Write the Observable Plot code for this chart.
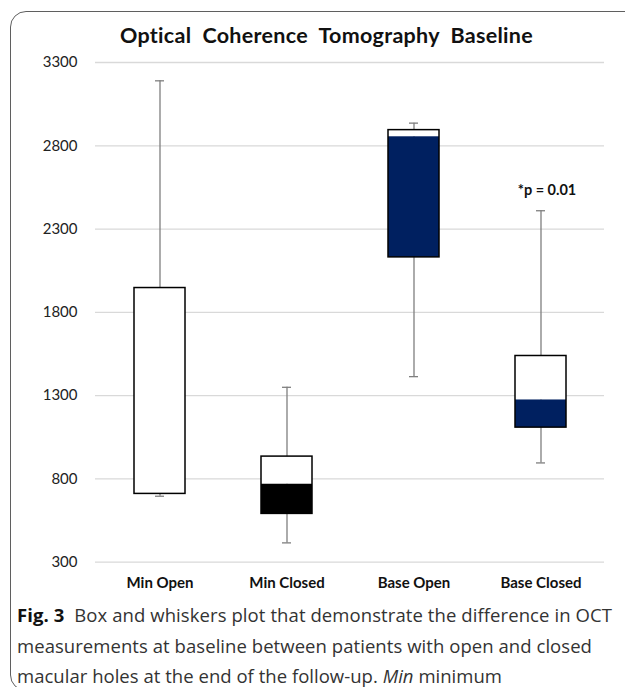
<!DOCTYPE html>
<html>
<head>
<meta charset="utf-8">
<script src="https://cdn.jsdelivr.net/npm/d3@7"></script>
<script src="https://cdn.jsdelivr.net/npm/@observablehq/plot@0.6"></script>
<style>
  html, body { margin: 0; padding: 0; background: #fff; }
  body { width: 625px; height: 687px; position: relative; overflow: hidden; }
  #frame { position: absolute; left: 10px; top: 11px; width: 700px; height: 680px;
           border: 1.5px solid #5f5f5f; border-radius: 16px; box-sizing: border-box; }
  #title { position: absolute; left: 14px; top: 23px; width: 625px; text-align: center;
           font-family: Lato, sans-serif; font-weight: 700; font-size: 21.5px; line-height: 25px;
           letter-spacing: 0.3px; color: #111; white-space: pre; }
  #chart { position: absolute; left: 0; top: 0; }
  #caption { position: absolute; left: 17px; top: 600px; font-family: "Open Sans", sans-serif;
             font-size: 18.5px; line-height: 30.5px; color: #333; }
  #caption div { white-space: nowrap; }
</style>
</head>
<body>
<div id="frame"></div>
<div id="chart"></div>
<div id="title">Optical  Coherence  Tomography  Baseline</div>
<div id="caption">
  <div class="ln" data-w="595"><b style="color:#111">Fig. 3</b>&nbsp; Box and whiskers plot that demonstrate the difference in OCT</div>
  <div class="ln" data-w="575">measurements at baseline between patients with open and closed</div>
  <div class="ln" data-w="485">macular holes at the end of the follow-up. <i>Min</i> minimum</div>
</div>
<script>
const categories = ["Min Open", "Min Closed", "Base Open", "Base Closed"];
const whiskerLow  = [696, 416, 1414, 896];
const q1          = [710, 590, 2130, 1108];
const median      = [710, 768, 2854, 1274];
const q3          = [1946, 934, 2894, 1538];
const whiskerHigh = [3190, 1350, 2936, 2410];
const yTicks = [300, 800, 1300, 1800, 2300, 2800, 3300];
const annotation = {category: "Base Closed", value: 2530, label: "*p = 0.01"};

const rows = categories.map((c, i) => ({
  category: c, lo: whiskerLow[i], q1: q1[i], med: median[i], q3: q3[i], hi: whiskerHigh[i]
}));

const chart = Plot.plot({
  width: 625,
  height: 600,
  marginTop: 62,
  marginBottom: 38.3,
  marginLeft: 95,
  marginRight: 21,
  style: {fontFamily: "Lato, sans-serif", background: "transparent"},
  x: {domain: categories, paddingInner: 0.6, paddingOuter: 0.3, label: null},
  y: {domain: [300, 3300], label: null},
  color: {domain: categories, range: ["#ffffff", "#000000", "#002060", "#002060"]},
  marks: [
    Plot.ruleY(yTicks, {stroke: "#d9d9d9", strokeWidth: 1.3}),
    Plot.ruleX(rows, {x: "category", y1: "lo", y2: "hi", stroke: "#7f7f7f", strokeWidth: 1.3}),
    Plot.tickY(rows, {x: "category", y: "lo", stroke: "#7f7f7f", strokeWidth: 1.3, insetLeft: 21, insetRight: 21}),
    Plot.tickY(rows, {x: "category", y: "hi", stroke: "#7f7f7f", strokeWidth: 1.3, insetLeft: 21, insetRight: 21}),
    Plot.barY(rows, {x: "category", y1: "med", y2: "q3", fill: "#ffffff"}),
    Plot.barY(rows, {x: "category", y1: "q1", y2: "med", fill: "category"}),
    Plot.barY(rows, {x: "category", y1: "q1", y2: "q3", fill: "none", stroke: "#000", strokeWidth: 1.5}),
    Plot.text([annotation], {x: "category", y: "value", text: "label", fontSize: 14.5, fontWeight: "bold", fill: "#111", dx: 6}),
    Plot.axisY({ticks: yTicks, tickSize: 0, tickPadding: 18, fontSize: 15, fill: "#222", tickFormat: d => String(d)}),
    Plot.axisX({tickSize: 0, tickPadding: 15, fontSize: 15, fontWeight: "bold", fill: "#111"})
  ]
});
document.getElementById("chart").appendChild(chart);

// fit caption lines to the measured widths of the reference
document.querySelectorAll("#caption .ln").forEach(el => {
  const target = +el.dataset.w;
  el.style.display = "inline-block";
  const w = el.getBoundingClientRect().width;
  const n = el.textContent.length;
  const ls = (target - w) / n;
  el.style.letterSpacing = ls.toFixed(3) + "px";
  el.style.display = "block";
});
</script>
</body>
</html>
